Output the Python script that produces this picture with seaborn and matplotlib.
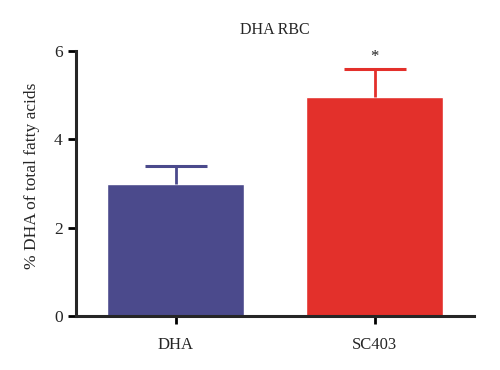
import pandas as pd
import matplotlib
matplotlib.use("Agg")
import matplotlib.pyplot as plt
import seaborn as sns

# values
groups = ["DHA", "SC403"]
means = [3.0, 4.95]
sem_up = [0.4, 0.65]
bar_colors = ["#4b4a8c", "#e3302b"]

df = pd.DataFrame({"group": groups, "dha": means})

sns.set_style("ticks")
plt.rcParams["font.family"] = ["Liberation Serif", "DejaVu Serif"]

fig = plt.figure(figsize=(5, 3.7), dpi=100)
ax = fig.add_axes([0.152, 0.146, 0.796, 0.716])

sns.barplot(x="group", y="dha", data=df, hue="group", palette=bar_colors,
            width=0.69, errorbar=None, legend=False, saturation=1, ax=ax)

# upper error bars only, same colour as bar
for i, (m, e, c) in enumerate(zip(means, sem_up, bar_colors)):
    eb = ax.errorbar(i, m, yerr=[[0], [e]], fmt="none", ecolor=c,
                     elinewidth=2, capsize=22, capthick=2.2)
    eb[1][0].remove()  # drop the lower cap

# significance star
ax.text(1, means[1] + sem_up[1] + 0.08, "*", ha="center", va="bottom",
        fontsize=12, color="#222222")

ax.set_xlim(-0.5, 1.5)
ax.set_ylim(0, 6)
ax.set_yticks([0, 2, 4, 6])
ax.set_xlabel("")
ax.set_ylabel("% DHA of total fatty acids", fontsize=12.5)
ax.yaxis.set_label_coords(-0.09, 0.53)
ax.set_title("DHA RBC", fontsize=11.5, pad=12)

sns.despine(ax=ax)
for s in ["left", "bottom"]:
    ax.spines[s].set_linewidth(2.2)
ax.tick_params(axis="both", width=2, length=6, labelsize=12.5, color="black")
ax.tick_params(axis="x", labelsize=12, pad=9)

fig.savefig("out.png", dpi=100)
